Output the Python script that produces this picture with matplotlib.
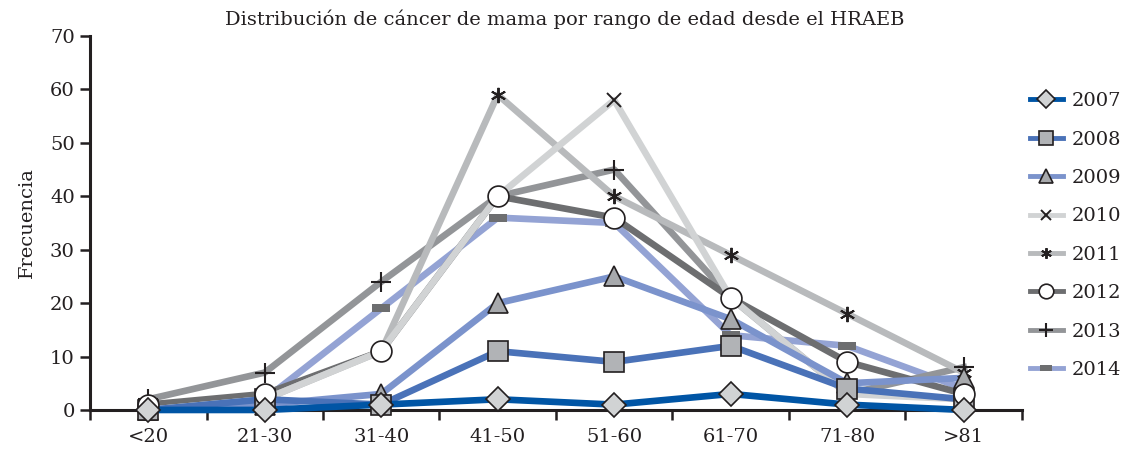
import matplotlib
matplotlib.use("Agg")
import matplotlib.pyplot as plt
from matplotlib.lines import Line2D
import numpy as np

categories = ['<20', '21-30', '31-40', '41-50', '51-60', '61-70', '71-80', '>81']
years = ['2007', '2008', '2009', '2010', '2011', '2012', '2013', '2014']
v2007 = [0, 0, 1, 2, 1, 3, 1, 0]
v2008 = [0, 2, 1, 11, 9, 12, 4, 2]
v2009 = [0, 1, 3, 20, 25, 17, 5, 6]
v2010 = [0, 2, 11, 40, 58, 21, 3, 2]
v2011 = [0, 2, 11, 59, 40, 29, 18, 7]
v2012 = [1, 3, 11, 40, 36, 21, 9, 3]
v2013 = [2, 7, 24, 40, 45, 21, 3, 8]
v2014 = [1, 2, 19, 36, 35, 14, 12, 4]
series = [v2007, v2008, v2009, v2010, v2011, v2012, v2013, v2014]

plt.rcParams['font.family'] = ['DejaVu Serif']
INK = '#231F20'

flat_rect = [(-1, -0.45), (1, -0.45), (1, 0.45), (-1, 0.45), (-1, -0.45)]
line_colors = ['#0055A5', '#4A72B8', '#7B93CC', '#D1D3D4', '#B8BABC', '#6D6E70', '#939598', '#94A3D4']
marks = [
    dict(marker='D', ms=12.5, mfc='#D1D3D4', mec=INK, mew=1.2),
    dict(marker='s', ms=14, mfc='#B1B3B6', mec=INK, mew=1.2),
    dict(marker='^', ms=15, mfc='#A7A9AC', mec=INK, mew=1.2),
    dict(marker='x', ms=10, mfc='none', mec=INK, mew=1.4),
    dict(marker=(6, 2, 0), ms=11, mfc='none', mec=INK, mew=1.4),
    dict(marker='o', ms=15, mfc='white', mec=INK, mew=1.2),
    dict(marker='+', ms=14, mfc='none', mec=INK, mew=1.5),
    dict(marker=flat_rect, ms=13, mfc='#6D6E70', mec='#6D6E70', mew=0),
]
# marker stacking order (later = on top)
marker_order = [3, 4, 6, 7, 2, 1, 5, 0]

fig = plt.figure(figsize=(11.28, 4.54), dpi=100)
ax = fig.add_axes([0.0798, 0.097, 0.906 - 0.0798, 0.9207 - 0.097])

x = np.arange(len(categories))
n = len(series)
for i in reversed(range(n)):
    ax.plot(x, series[i], lw=4.8, color=line_colors[i], zorder=3 + (n - i),
            clip_on=False)
for k, i in enumerate(marker_order):
    ax.plot(x, series[i], ls='none', zorder=20 + k, clip_on=False, **marks[i])

ax.set_xlim(-0.5, 7.5)
ax.set_ylim(0, 70)
ax.set_yticks(range(0, 71, 10))
ax.set_xticks(x)
ax.set_xticklabels(categories, fontsize=14)
ax.set_xticks(np.arange(-0.5, 7.6, 1), minor=True)
ax.tick_params(axis='x', which='major', length=0, pad=13)
ax.tick_params(axis='x', which='minor', length=7, width=1.8, direction='out', color=INK)
ax.tick_params(axis='y', length=7, width=1.8, direction='out', labelsize=14, color=INK, pad=4)
for lab in ax.get_yticklabels() + ax.get_xticklabels():
    lab.set_color(INK)
for s in ['top', 'right']:
    ax.spines[s].set_visible(False)
for s in ['left', 'bottom']:
    ax.spines[s].set_linewidth(2.2)
    ax.spines[s].set_color(INK)
    ax.spines[s].set_zorder(2)

ax.set_ylabel('Frecuencia', fontsize=14, color=INK, labelpad=10)
fig.text(0.501, 0.958, 'Distribución de cáncer de mama por rango de edad desde el HRAEB',
         ha='center', va='center', fontsize=14, color=INK)

handles = []
for i in range(n):
    st = dict(marks[i])
    st['ms'] = st['ms'] * 0.7
    handles.append(Line2D([0], [0], lw=3.5, color=line_colors[i], **st))
leg = fig.legend(handles, years, loc='upper left', bbox_to_anchor=(0.906, 0.814),
                 frameon=False, fontsize=14, handlelength=1.7, labelspacing=1.05,
                 handletextpad=0.45, borderaxespad=0, borderpad=0.4)
for t in leg.get_texts():
    t.set_color(INK)

fig.savefig('out.png', dpi=100)
